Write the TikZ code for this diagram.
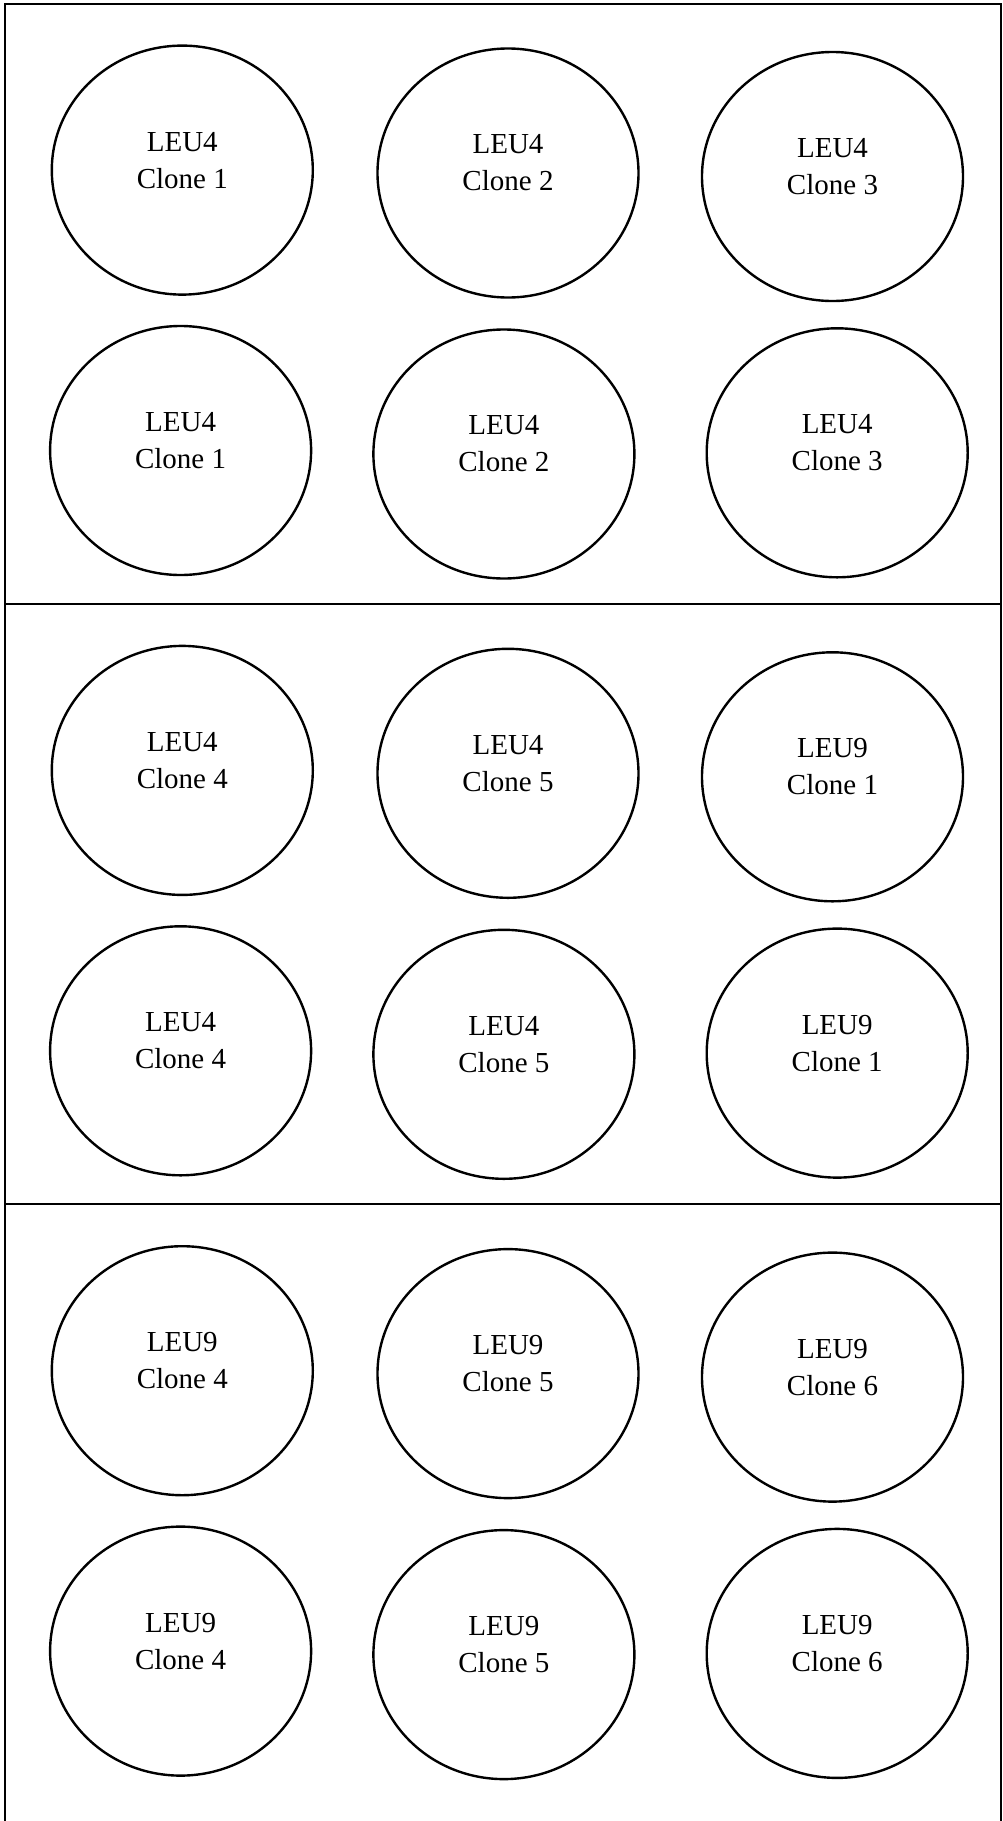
\documentclass[tikz,border=0pt]{standalone}
\usepackage{fontspec}
\setmainfont{Liberation Serif}
\usetikzlibrary{shapes.geometric}
\begin{document}
\begin{tikzpicture}[x=1pt,y=-1pt,
  cell/.style={ellipse,draw,line width=2.4pt,minimum width=261pt,minimum height=249pt,inner sep=0pt,outer sep=0pt},
  lbl/.style={align=center,font=\fontsize{29}{37}\selectfont,inner sep=0pt},
  frame/.style={line width=2pt}]
\useasboundingbox (0,0) rectangle (1002,1821);
\coordinate (tl) at (4.6,3.5);
\coordinate (tr) at (1000.5,3.5);
\coordinate (bl) at (4.6,1821);
\coordinate (br) at (1000.5,1821);
\coordinate (d1l) at (4.6,604);
\coordinate (d1r) at (1000.5,604);
\coordinate (d2l) at (4.6,1204.3);
\coordinate (d2r) at (1000.5,1204.3);
\draw[frame] (bl) -- (tl) -- (tr) -- (br);
\draw[frame] (d1l) -- (d1r);
\draw[frame] (d2l) -- (d2r);
\foreach \s/\off/\ga/\ca/\gb/\cb/\gc/\cc in {1/0/LEU4/1/LEU4/2/LEU4/3, 2/600.3/LEU4/4/LEU4/5/LEU9/1, 3/1200.6/LEU9/4/LEU9/5/LEU9/6}{
  \foreach \r/\xa/\ya/\xb/\yb/\xc/\yc in {1/182.3/170.1/508/173/832.5/176.5, 2/180.6/450.5/503.9/454/837.2/452.8}{
    \node[cell] (e\s\r a) at (\xa,\ya+\off) {};
    \node[lbl] (t\s\r a) at ([yshift=10pt]e\s\r a.center) {\ga\\Clone \ca};
    \node[cell] (e\s\r b) at (\xb,\yb+\off) {};
    \node[lbl] (t\s\r b) at ([yshift=10pt]e\s\r b.center) {\gb\\Clone \cb};
    \node[cell] (e\s\r c) at (\xc,\yc+\off) {};
    \node[lbl] (t\s\r c) at ([yshift=10pt]e\s\r c.center) {\gc\\Clone \cc};
  }
}
\end{tikzpicture}
\end{document}
